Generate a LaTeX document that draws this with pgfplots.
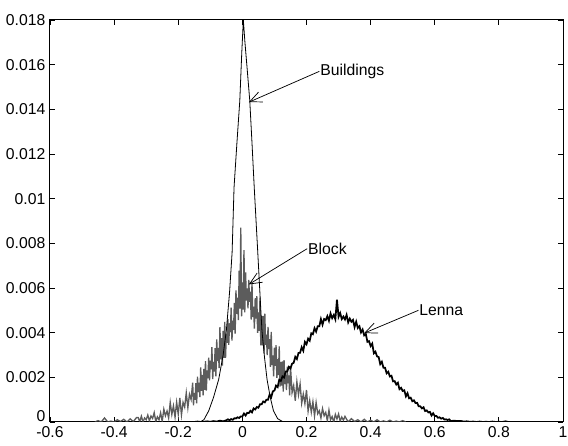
\documentclass[border=0pt]{standalone}
\usepackage{fontspec}
\setmainfont{Liberation Sans}
\usepackage{pgfplots}
\pgfplotsset{compat=1.18}
\usetikzlibrary{arrows.meta}
\definecolor{blockgray}{RGB}{92,92,92}
\newcommand{\lblfont}{\fontsize{11.8}{13}\selectfont}

\begin{document}
\begin{tikzpicture}
\begin{axis}[
  at={(0,0)}, anchor=south west,
  scale only axis,
  width=384.75pt, height=301.5pt,
  xmin=-0.6, xmax=1, ymin=0, ymax=0.018,
  xtick={-0.6,-0.4,-0.2,0,0.2,0.4,0.6,0.8,1},
  xticklabels={-0.6,-0.4,-0.2,0,0.2,0.4,0.6,0.8,1},
  ytick={0,0.002,0.004,0.006,0.008,0.01,0.012,0.014,0.016,0.018},
  yticklabels={\raisebox{9pt}{0},0.002,0.004,0.006,0.008,0.01,0.012,0.014,0.016,0.018},
  scaled x ticks=false, scaled y ticks=false,
  tick align=inside,
  major tick length=3.75pt,
  tick style={black, line width=0.6pt},
  axis line style={black, line width=0.75pt},
  tick label style={font=\lblfont},
]
% Block (gray, noisy)
\addplot[blockgray, line width=1.0pt] coordinates {
(-0.46,0) (-0.45,0.00006) (-0.44,0) (-0.43,0.00018) (-0.42,0) (-0.41,0.00004) (-0.40,0) (-0.39,0.0001)
(-0.38,0.00002) (-0.37,0.00012) (-0.36,0) (-0.35,0.00014) (-0.34,0.00002) (-0.33,0.0002)
(-0.325,0.0002) (-0.32,0.00002) (-0.315,0.00026) (-0.31,0) (-0.305,0.00018) (-0.30,0.0001) (-0.295,0.00031) (-0.29,0.00005)
(-0.285,0.00027) (-0.28,0.00016) (-0.275,0.00042) (-0.27,0.00002) (-0.265,0.00023) (-0.26,0.0001) (-0.255,0.00041) (-0.25,0.00003)
(-0.245,0.00057) (-0.24,0.00028) (-0.235,0.00049) (-0.23,0.00018) (-0.225,0.00087) (-0.22,0.00034) (-0.215,0.00072) (-0.21,0.00022)
(-0.205,0.00088) (-0.20,0.00035) (-0.195,0.00108) (-0.19,0.00032) (-0.185,0.00088) (-0.18,0.00067) (-0.175,0.0013) (-0.17,0.00064)
(-0.165,0.00124) (-0.16,0.00101) (-0.155,0.00176)
(-0.1525,0.00075) (-0.15,0.0013) (-0.1475,0.00099) (-0.145,0.00174) (-0.1425,0.00083) (-0.14,0.00203) (-0.1375,0.00134) (-0.135,0.00176)
(-0.1325,0.00111) (-0.13,0.00244) (-0.1275,0.0014) (-0.125,0.00211) (-0.1225,0.00119) (-0.12,0.00238) (-0.1175,0.00144) (-0.115,0.00273)
(-0.1125,0.00141) (-0.11,0.00231) (-0.1075,0.00196) (-0.105,0.00288) (-0.1025,0.00186) (-0.10,0.00275) (-0.0975,0.00236) (-0.095,0.00335)
(-0.0925,0.00192) (-0.09,0.00269) (-0.0875,0.00226) (-0.085,0.00331) (-0.0825,0.00204) (-0.08,0.0037) (-0.0775,0.00273) (-0.075,0.00332)
(-0.0725,0.00241) (-0.07,0.00425) (-0.0675,0.0028) (-0.065,0.00376) (-0.0625,0.00253) (-0.06,0.00408) (-0.0575,0.00287) (-0.055,0.00448)
(-0.0525,0.00287) (-0.05,0.00396) (-0.0475,0.00354) (-0.045,0.0046) (-0.0425,0.00345) (-0.04,0.00442) (-0.0375,0.00402) (-0.035,0.00512)
(-0.0325,0.00365) (-0.03,0.00454) (-0.0275,0.00413) (-0.025,0.00533) (-0.0225,0.00396) (-0.02,0.00589) (-0.0175,0.00484) (-0.015,0.00557)
(-0.0125,0.00456) (-0.01,0.00678) (-0.0075,0.00508) (-0.005,0.0087) (-0.0025,0.00473) (0,0.00625) (0.0025,0.00503) (0.005,0.0077)
(0.0075,0.00491) (0.01,0.0067) (0.0125,0.00544) (0.015,0.00598) (0.0175,0.00509) (0.02,0.00636) (0.0225,0.00538) (0.025,0.00584)
(0.0275,0.00459) (0.03,0.00622) (0.0325,0.0047) (0.035,0.00516) (0.0375,0.00418) (0.04,0.00554) (0.0425,0.00463) (0.045,0.00564)
(0.0475,0.00399) (0.05,0.00491) (0.0525,0.00408) (0.055,0.00557) (0.0575,0.00343) (0.06,0.00474) (0.0625,0.00343) (0.065,0.00475)
(0.0675,0.00307) (0.07,0.00485) (0.0725,0.00345) (0.075,0.00391) (0.0775,0.00299) (0.08,0.00426) (0.0825,0.00327) (0.085,0.00371)
(0.0875,0.00247) (0.09,0.00403) (0.0925,0.00255) (0.095,0.00298) (0.0975,0.00204) (0.10,0.00333) (0.1025,0.00251) (0.105,0.00344)
(0.1075,0.00198) (0.11,0.00281) (0.1125,0.0021) (0.115,0.00339) (0.1175,0.00159) (0.12,0.00269) (0.1225,0.00163) (0.125,0.00271)
(0.1275,0.00136) (0.13,0.00277) (0.1325,0.0017) (0.135,0.00211) (0.1375,0.00143) (0.14,0.00248) (0.1425,0.00173) (0.145,0.00209)
(0.1475,0.00119) (0.15,0.0025)
(0.155,0.00132) (0.16,0.00163) (0.165,0.00095) (0.17,0.0018) (0.175,0.00122) (0.18,0.0017) (0.185,0.00084) (0.19,0.00125)
(0.195,0.00083) (0.20,0.00143) (0.205,0.00049) (0.21,0.00096) (0.215,0.00044) (0.22,0.0009) (0.225,0.00027) (0.23,0.00087)
(0.235,0.00037) (0.24,0.0005) (0.245,0.00018) (0.25,0.0006) (0.255,0.00028) (0.26,0.00043) (0.265,0.00006) (0.27,0.00053)
(0.275,0.0001) (0.28,0.00024) (0.285,0) (0.29,0.00034) (0.295,0.00014) (0.30,0.00036) (0.305,0.00004) (0.31,0.00022)
(0.315,0.00008) (0.32,0.00025) (0.33,0) (0.34,0.00015) (0.35,0.00002) (0.36,0.0001) (0.37,0) (0.38,0.00012)
(0.39,0) (0.40,0.00008) (0.41,0) (0.42,0.0001) (0.43,0) (0.44,0.00005) (0.45,0) (0.46,0.00008)
(0.47,0) (0.48,0.00004) (0.49,0) (0.50,0.00006) (0.51,0)
};
% Buildings (thin black, smooth)
\addplot[black, line width=0.6pt] coordinates {
(-0.60,0) (-0.14,0) (-0.13,0.00002) (-0.12,0.0001) (-0.105,0.0005) (-0.09,0.0011) (-0.074,0.0019) (-0.06,0.0030)
(-0.05,0.0041) (-0.04,0.0058) (-0.032,0.0076) (-0.026,0.0105) (-0.017,0.0125) (-0.008,0.0144) (-0.002,0.0165)
(0.003,0.0180) (0.008,0.0170) (0.015,0.0158) (0.023,0.0144) (0.030,0.0125) (0.037,0.0105) (0.048,0.0076)
(0.055,0.0057) (0.061,0.0041) (0.069,0.0029) (0.077,0.0019) (0.087,0.0011) (0.097,0.0005) (0.11,0.00015)
(0.124,0.00003) (0.14,0) (1.0,0)
};
% Lenna (black, noisy)
\addplot[black, line width=1.3pt] coordinates {
(-0.15,0) (-0.14,0.00002) (-0.13,0) (-0.12,0.00001) (-0.11,0.00003) (-0.10,0.00001) (-0.09,0.00004) (-0.08,0.00002)
(-0.07,0.00006) (-0.06,0.00003) (-0.05,0.00008)
(-0.045,0.00012) (-0.04,0.00008) (-0.035,0.00013) (-0.03,0.0001) (-0.025,0.00017) (-0.02,0.00016) (-0.015,0.00021) (-0.01,0.00018) (-0.005,0.00025) (0,0.00025)
(0.005,0.00038) (0.01,0.00029) (0.015,0.00041) (0.02,0.0004) (0.025,0.0005) (0.03,0.00043) (0.035,0.00061) (0.04,0.00056) (0.045,0.00067) (0.05,0.00064)
(0.055,0.00079) (0.06,0.00079) (0.065,0.00092) (0.07,0.00088) (0.075,0.001) (0.08,0.001) (0.085,0.00123) (0.09,0.00111) (0.095,0.00137) (0.1,0.00141)
(0.105,0.00163) (0.11,0.00156) (0.115,0.00189) (0.12,0.00184) (0.125,0.00204) (0.13,0.00199) (0.135,0.00226) (0.14,0.00226) (0.145,0.00247) (0.15,0.0024)
(0.155,0.00261) (0.16,0.00265) (0.165,0.00292) (0.17,0.00282) (0.175,0.00309) (0.18,0.0031) (0.185,0.00335) (0.19,0.00319) (0.195,0.00359) (0.2,0.00348)
(0.205,0.00373) (0.21,0.00364) (0.215,0.00397) (0.22,0.00393) (0.225,0.0042) (0.23,0.00405) (0.235,0.00429) (0.24,0.00429) (0.245,0.00461) (0.25,0.00436)
(0.255,0.00461) (0.26,0.00456) (0.265,0.00474) (0.27,0.00453) (0.275,0.00486) (0.28,0.00465) (0.285,0.00479) (0.29,0.0046) (0.295,0.00548) (0.3,0.00471)
(0.305,0.00488) (0.31,0.00461) (0.315,0.00472) (0.32,0.00459) (0.325,0.0048) (0.33,0.00446) (0.335,0.00463) (0.34,0.00449) (0.345,0.00457) (0.35,0.00425)
(0.355,0.00449) (0.36,0.00421) (0.365,0.00429) (0.37,0.00401) (0.375,0.00414) (0.38,0.00388) (0.385,0.00394) (0.39,0.00359) (0.395,0.00362) (0.4,0.0034)
(0.405,0.00351) (0.41,0.00308) (0.415,0.00315) (0.42,0.00294) (0.425,0.00291) (0.43,0.00259) (0.435,0.0027) (0.44,0.00243) (0.445,0.00243) (0.45,0.00218)
(0.455,0.00225) (0.46,0.00204) (0.465,0.00207) (0.47,0.00182) (0.475,0.00183) (0.48,0.00168) (0.485,0.00176) (0.49,0.00147) (0.495,0.00153) (0.5,0.00139)
(0.505,0.00142) (0.51,0.00115) (0.515,0.00129) (0.52,0.00106) (0.525,0.00109) (0.53,0.00093) (0.535,0.00097) (0.54,0.00085) (0.545,0.00086) (0.55,0.0007)
(0.555,0.0007) (0.56,0.00061) (0.565,0.00066) (0.57,0.00049) (0.575,0.00052) (0.58,0.00043) (0.585,0.00045) (0.59,0.00029) (0.595,0.00039) (0.6,0.00027)
(0.605,0.00027) (0.61,0.00019) (0.615,0.00021) (0.62,0.00015) (0.625,0.00018) (0.63,0.00011) (0.635,0.00012) (0.64,0.00009) (0.645,0.00012) (0.65,0.00004)
(0.66,0.00006) (0.67,0.00004) (0.68,0.00005) (0.69,0.00002) (0.70,0.00003) (0.71,0.00001) (0.72,0.00002) (0.73,0) (0.74,0.00002) (0.75,0)
(0.76,0.00001) (0.77,0) (0.78,0.00002) (0.79,0) (0.80,0.00001) (0.81,0) (0.82,0.00003) (0.83,0)
};
% annotations
\draw[-{Straight Barb[length=9pt,width=8pt]}, line width=0.55pt]
  (axis cs:0.240,0.01570) node[anchor=west, inner sep=0.5pt, font=\lblfont] {Buildings} -- (axis cs:0.0202,0.01432);
\draw[-{Straight Barb[length=9pt,width=8pt]}, line width=0.55pt]
  (axis cs:0.202,0.00776) node[anchor=west, inner sep=0.5pt, font=\lblfont] {Block} -- (axis cs:0.0202,0.00616);
\draw[-{Straight Barb[length=9pt,width=8pt]}, line width=0.55pt]
  (axis cs:0.549,0.00500) node[anchor=west, inner sep=0.5pt, font=\lblfont] {Lenna} -- (axis cs:0.380,0.00398);
\end{axis}
\pgfresetboundingbox
\path (-37.5pt,-18pt) rectangle (388.5pt,316.5pt);
\end{tikzpicture}
\end{document}
